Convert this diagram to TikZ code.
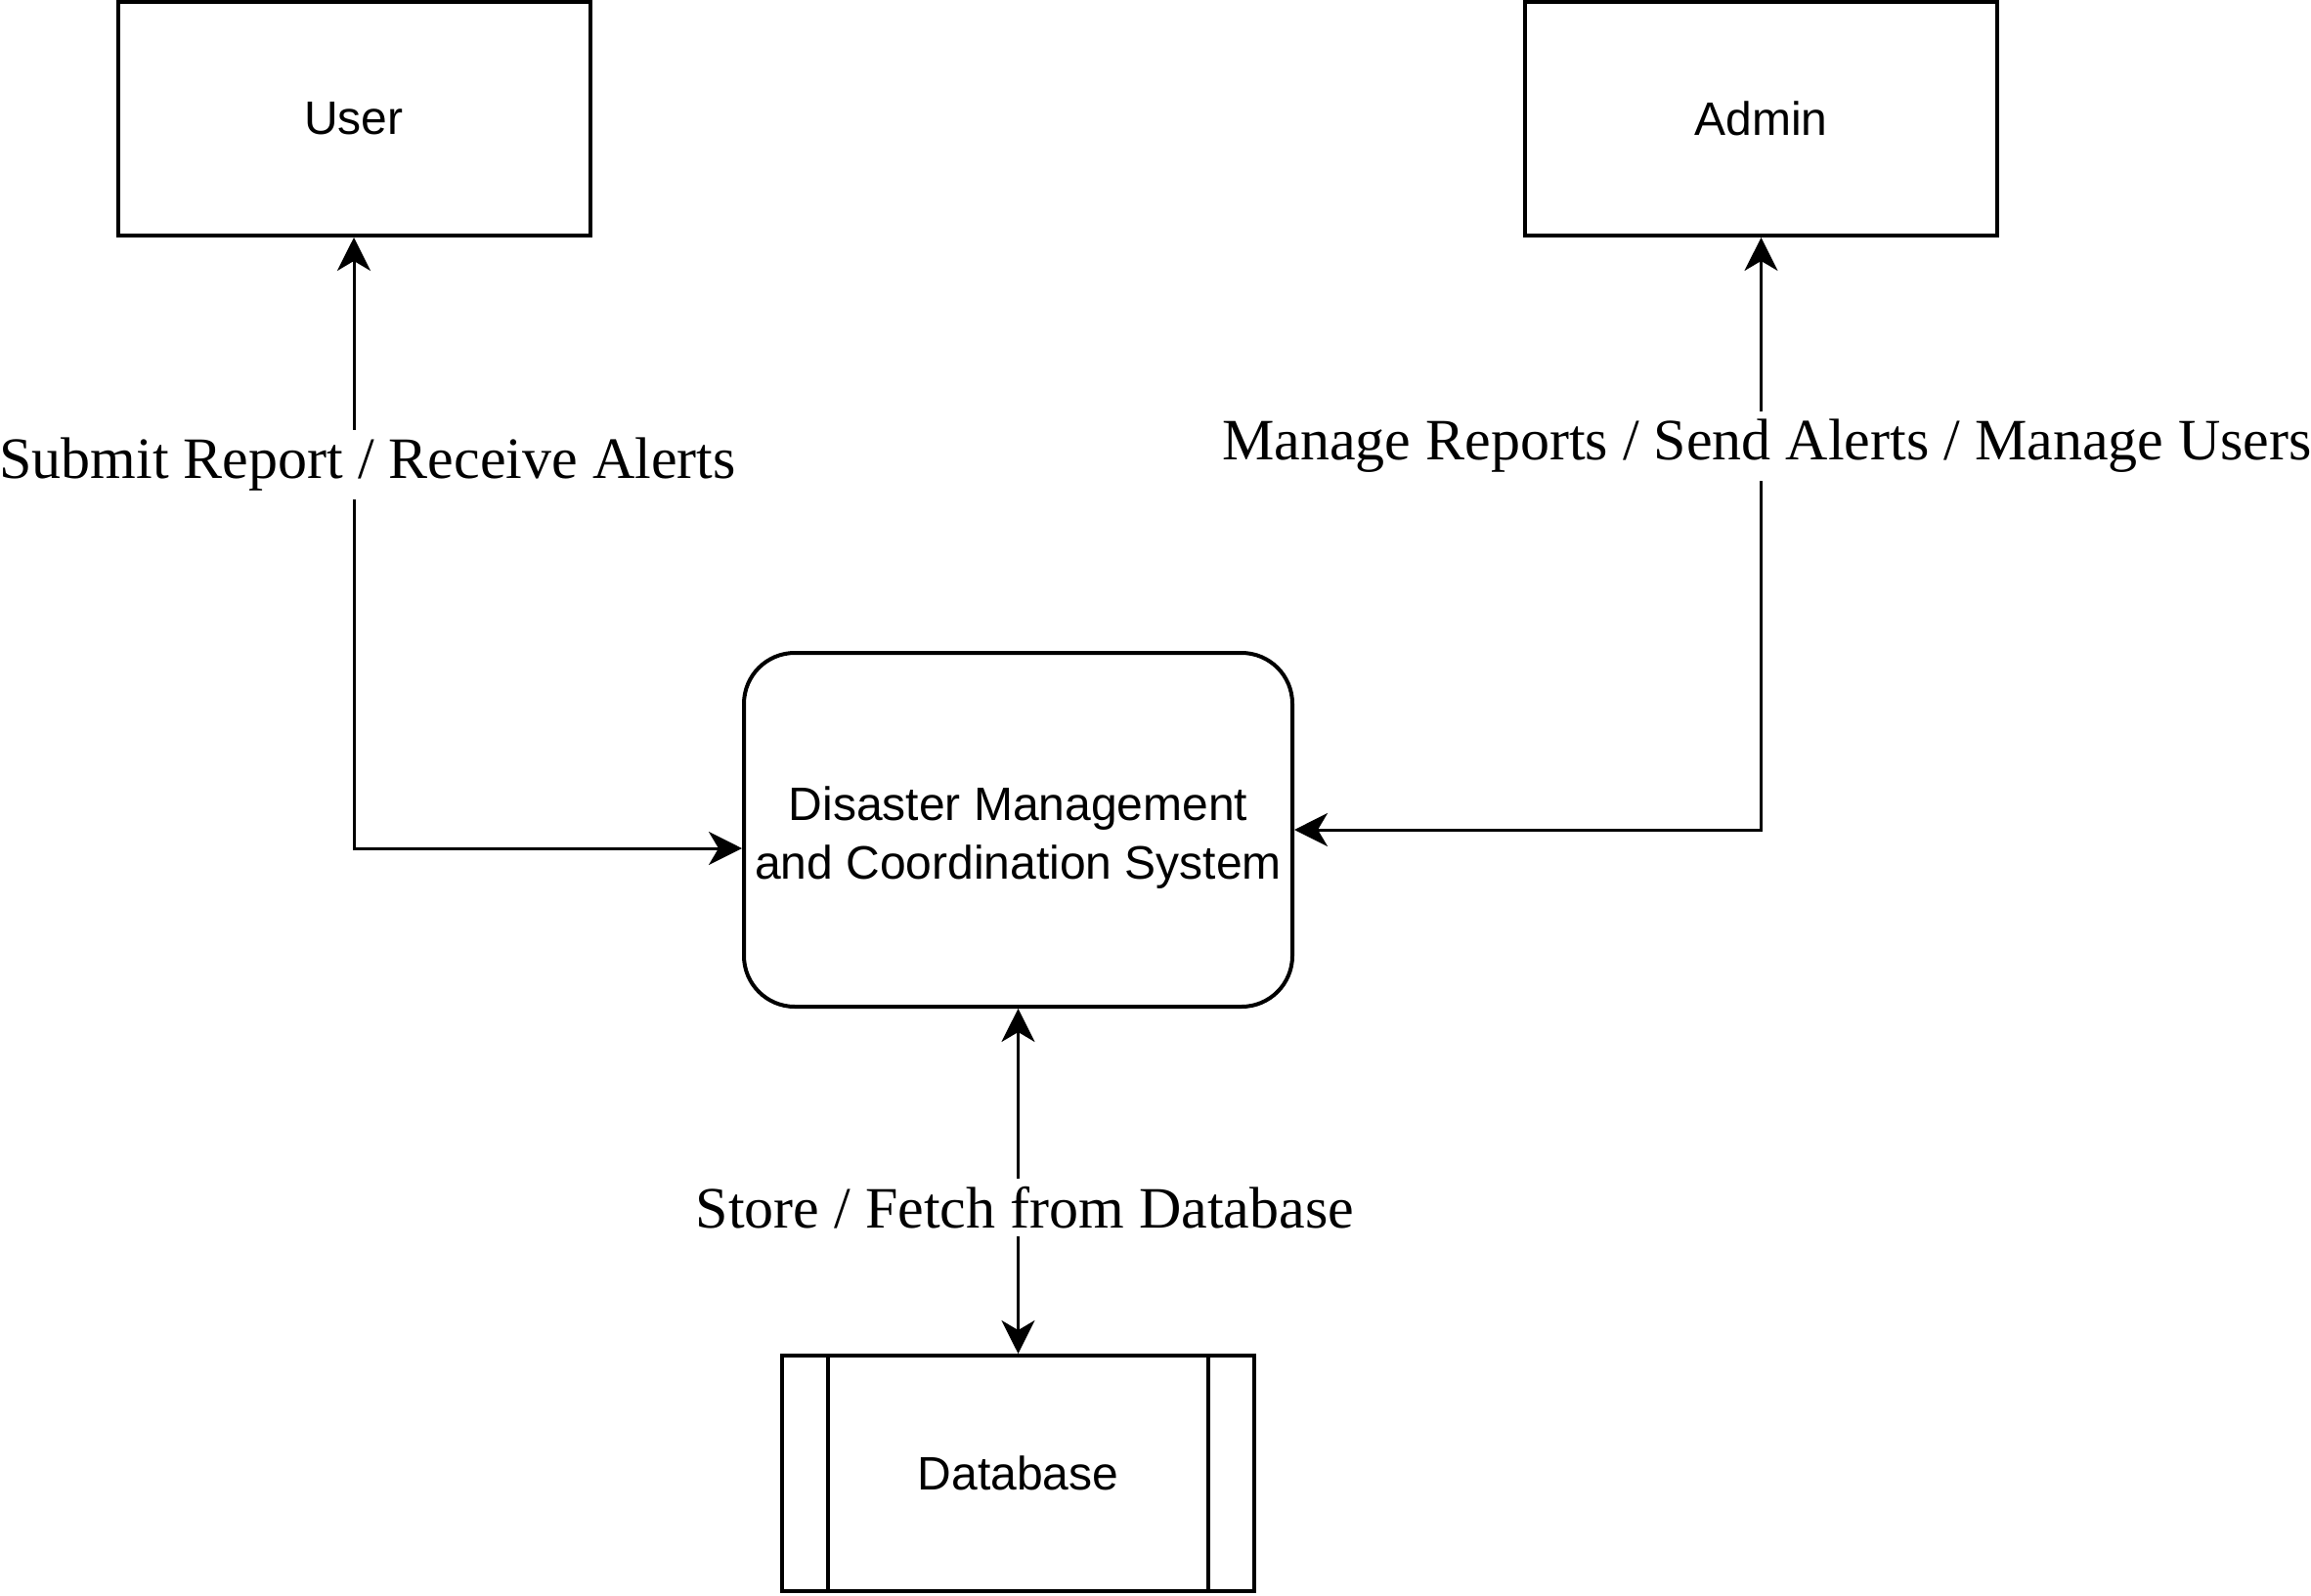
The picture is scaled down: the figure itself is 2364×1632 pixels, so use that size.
\documentclass[tikz,border=0pt]{standalone}
\usepackage{fontspec}
\setmainfont{Liberation Serif}
\setsansfont{Liberation Sans}
\usepackage{tikz}
\usetikzlibrary{arrows.meta}

\begin{document}
\begin{tikzpicture}[x=0.5pt,y=-0.5pt,
  entity/.style={draw,line width=2pt,minimum width=241.5pt,minimum height=119.5pt,
    font=\sffamily\fontsize{24}{30}\selectfont},
  process/.style={draw,line width=2pt,rounded corners=26pt,minimum width=280.5pt,
    minimum height=181pt,align=center,font=\sffamily\fontsize{24}{30}\selectfont},
  store/.style={draw,line width=2pt,minimum width=241.5pt,minimum height=120.5pt,
    font=\sffamily\fontsize{24}{30}\selectfont},
  flow/.style={line width=1.5pt,
    {Stealth[length=17pt,width=17pt,inset=5pt]}-{Stealth[length=17pt,width=17pt,inset=5pt]}},
  flowlabel/.style={fill=white,inner sep=4pt,font=\fontsize{30}{36}\selectfont}]
  \useasboundingbox (0,0) rectangle (2364,1632);

  \node[entity] (user) at (362,121.5) {User};
  \node[entity] (admin) at (1801.5,121.5) {Admin};
  \node[process] (dms) at (1041.5,849) {\rule{0pt}{25pt}Disaster Management\\and Coordination System};
  \node[store] (db) at (1041.5,1507.5) {Database};
  \draw[line width=2pt] ([xshift=24.5pt]db.north west) -- ([xshift=24.5pt]db.south west);
  \draw[line width=2pt] ([xshift=-24.5pt]db.north east) -- ([xshift=-24.5pt]db.south east);

  \draw[flow] (user.south) |- node[flowlabel,pos=0.186,xshift=7pt] (userflow) {Submit Report / Receive Alerts} (dms.west |- 0,868);
  \draw[flow] (admin.south) |- node[flowlabel,pos=0.176,xshift=3pt] (adminflow) {Manage Reports / Send Alerts / Manage Users} (dms.east);
  \draw[flow] (dms.south) -- node[flowlabel,pos=0.577,xshift=3.5pt] (dbflow) {Store / Fetch from Database} (db.north);

\end{tikzpicture}
\end{document}
